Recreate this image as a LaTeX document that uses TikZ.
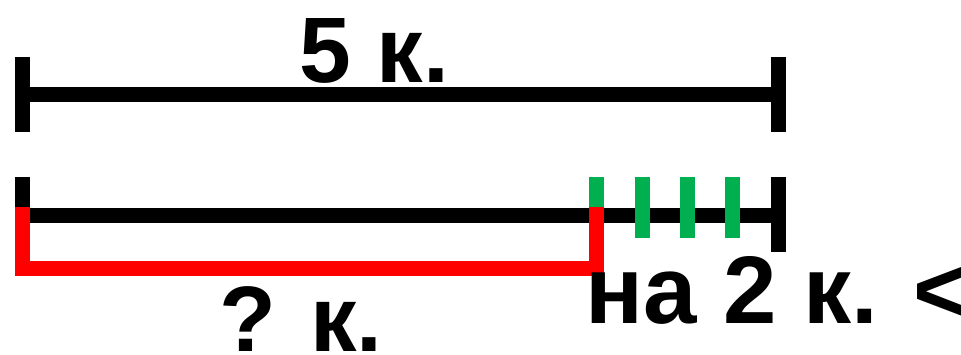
\documentclass[tikz,border=0pt]{standalone}
\usepackage{fontspec}
\setmainfont{Liberation Sans}
\definecolor{okgreen}{HTML}{00B050}
\begin{document}
\begin{tikzpicture}[x=1pt,y=-1pt,
	seg/.style={line width=15pt},
	lbl/.style={inner sep=0pt,font=\fontsize{93}{93}\selectfont\bfseries}]
	\useasboundingbox (0,0) rectangle (961,354);
	% whole segment
	\coordinate (a1) at (22,94);
	\coordinate (b1) at (778,94);
	\draw[seg] (22,57) -- (22,132);
	\draw[seg] (778,57) -- (778,132);
	\draw[seg] (a1) -- (b1);
	\node[lbl,anchor=base] (whole) at (374,82) {5 к.};
	% second segment
	\coordinate (a2) at (22,215);
	\coordinate (b2) at (778,215);
	\coordinate (m2) at (596,215);
	\draw[seg] (22,177) -- (a2);
	\draw[seg] (778,177) -- (778,252);
	\draw[seg] (a2) -- (b2);
	\draw[seg,red] (22,207) -- (22,268) -- (596,268) -- (596,207);
	\draw[seg,okgreen] (596,177) -- (596,207);
	\foreach \x in {642,687,732}
		\draw[seg,okgreen] (\x,177) -- (\x,238);
	\node[lbl,anchor=base] (part) at (301,351) {? к.};
	\node[lbl,anchor=base west,font=\fontsize{96}{96}\selectfont\bfseries] (diff) at (585,323) {на 2 к. <};
\end{tikzpicture}
\end{document}
